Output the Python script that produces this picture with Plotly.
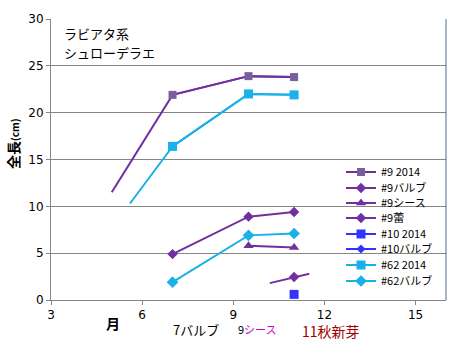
import plotly.graph_objects as go

# Month (x) and total length in cm (y) for each series
s9_2014_x = [5, 7, 9.5, 11]
s9_2014_y = [11.5, 21.9, 23.9, 23.8]
s9_bulb_x = [7, 9.5, 11]
s9_bulb_y = [4.9, 8.9, 9.4]
s9_sheath_x = [9.5, 11]
s9_sheath_y = [5.8, 5.6]
s9_bud_x = [10.2, 11, 11.5]
s9_bud_y = [1.8, 2.45, 2.8]
s10_2014_x = [11]
s10_2014_y = [0.6]
s10_bulb_x = [None]
s10_bulb_y = [None]
s62_2014_x = [5.6, 7, 9.5, 11]
s62_2014_y = [10.3, 16.4, 22.0, 21.9]
s62_bulb_x = [7, 9.5, 11]
s62_bulb_y = [1.9, 6.9, 7.1]

x_ticks = [3, 6, 9, 12, 15]
y_ticks = [0, 5, 10, 15, 20, 25, 30]

PURPLE = "#7030A0"
PURPLE_MK = "#7A5F9C"
BLUE = "#3333FF"
CYAN = "#1AB0E8"
FONT = "Noto Sans CJK JP"

W, H = 462, 341
ML, MR, MT, MB = 51, 16, 19, 41
PW, PH = W - ML - MR, H - MT - MB


def px_x(x):
    return (x - ML) / PW


def px_y(y):
    return (H - MB - y) / PH


# vertical centre (pixels) of each legend row
legend_rows = [172, 188, 203, 218, 234, 249, 265, 281]

fig = go.Figure()
layout_legends = {}
n_legend = 0


def add(name, xs, ys, color, symbol, size, mcolor=None, width=2, marked=None):
    """Draw one series; `marked` is the slice of points that carry a marker."""
    global n_legend
    key = "legend" if n_legend == 0 else f"legend{n_legend + 1}"
    if marked is not None:
        # full line without markers, then the marked part with markers
        fig.add_trace(go.Scatter(
            x=xs, y=ys, mode="lines", showlegend=False, hoverinfo="skip",
            line=dict(color=color, width=width), legend=key))
        xs, ys = xs[marked], ys[marked]
    fig.add_trace(go.Scatter(
        x=xs, y=ys, name=name, mode="lines+markers", legend=key,
        line=dict(color=color, width=width),
        marker=dict(symbol=symbol, size=size, color=mcolor or color,
                    line=dict(width=0)),
    ))
    layout_legends[key] = dict(
        x=px_x(341), y=px_y(legend_rows[n_legend]), xanchor="left",
        yanchor="middle", bgcolor="rgba(0,0,0,0)",
        font=dict(size=11, family=FONT, color="#000"), borderwidth=0,
    )
    n_legend += 1


add("#9 2014", s9_2014_x, s9_2014_y, PURPLE, "square", 8, PURPLE_MK,
    marked=slice(1, None))
add("#9バルブ", s9_bulb_x, s9_bulb_y, PURPLE, "diamond", 8)
add("#9シース", s9_sheath_x, s9_sheath_y, PURPLE, "triangle-up", 9)
add("#9蕾", s9_bud_x, s9_bud_y, PURPLE, "diamond", 8, marked=slice(1, 2))
add("#10 2014", s10_2014_x, s10_2014_y, BLUE, "square", 9)
add("#10バルブ", s10_bulb_x, s10_bulb_y, BLUE, "diamond", 7)
add("#62 2014", s62_2014_x, s62_2014_y, CYAN, "square", 9,
    marked=slice(1, None))
add("#62バルブ", s62_bulb_x, s62_bulb_y, CYAN, "diamond", 9)

annotations = [
    dict(x=px_x(62), y=px_y(22), text="ラビアタ系",
         xanchor="left", yanchor="top", font=dict(size=13, color="#000")),
    dict(x=px_x(62), y=px_y(41), text="シュローデラエ",
         xanchor="left", yanchor="top", font=dict(size=13, color="#000")),
    dict(x=px_x(13), y=px_y(144),
         text="<b>全長<span style='font-size:10px'>(cm)</span></b>",
         textangle=-90, font=dict(size=14, color="#000"),
         xanchor="center", yanchor="middle"),
    dict(x=px_x(113), y=px_y(323), text="<b>月</b>",
         xanchor="center", yanchor="middle", font=dict(size=14, color="#000")),
    dict(x=px_x(196), y=px_y(329), text="7バルブ",
         xanchor="center", yanchor="middle", font=dict(size=13, color="#000")),
    dict(x=px_x(257), y=px_y(329),
         text="9<span style='color:#CC00CC'>シース</span>",
         xanchor="center", yanchor="middle", font=dict(size=11, color="#000")),
    dict(x=px_x(331), y=px_y(331), text="11秋新芽",
         xanchor="center", yanchor="middle", font=dict(size=14, color="#A00000")),
]
for a in annotations:
    a.update(xref="paper", yref="paper", showarrow=False)

fig.update_layout(
    width=W, height=H,
    margin=dict(l=ML, r=MR, t=MT, b=MB),
    paper_bgcolor="white", plot_bgcolor="white",
    font=dict(family=FONT, size=12, color="#000"),
    showlegend=True,
    annotations=annotations,
    xaxis=dict(range=[3, 16], tickvals=x_ticks, showgrid=False,
               showline=True, linecolor="#868686", linewidth=1,
               ticks="outside", ticklen=4, tickcolor="#868686",
               tickfont=dict(size=12, family="DejaVu Sans", color="#000"),
               zeroline=False),
    yaxis=dict(range=[0, 30], tickvals=y_ticks, showgrid=True,
               gridcolor="#868686", gridwidth=1,
               showline=True, linecolor="#868686", linewidth=1,
               ticks="outside", ticklen=4, tickcolor="#868686",
               tickfont=dict(size=12, family="DejaVu Sans", color="#000"),
               zeroline=False),
    **layout_legends,
)
# right-hand frame edge of the plot area
fig.add_shape(type="line", xref="paper", yref="paper", x0=1, x1=1, y0=0, y1=1,
              line=dict(color="#4F6F8F", width=1))

fig.write_html("out.html")
